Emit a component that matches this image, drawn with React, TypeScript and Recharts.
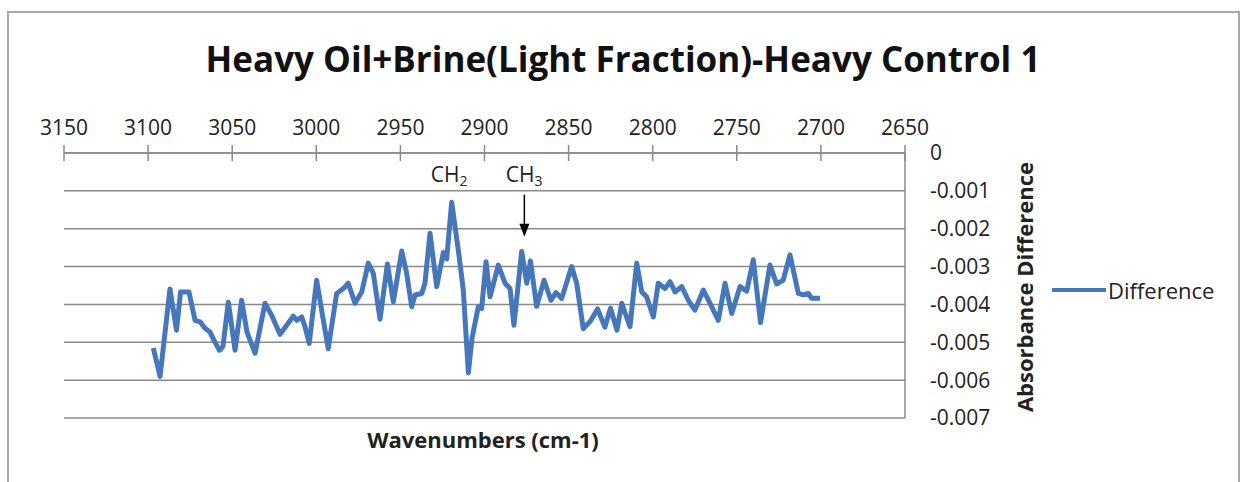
import { LineChart, Line, XAxis, YAxis, CartesianGrid, ReferenceLine, ReferenceDot } from 'recharts'

const wavenumbers = [
  3096.9, 3092.9, 3087.0, 3083.1, 3080.7, 3075.7, 3072.1, 3069.1, 3066.2, 3063.2,
  3060.8, 3057.6, 3055.5, 3052.3, 3048.3, 3044.4, 3041.2, 3036.4, 3030.5, 3026.3,
  3021.6, 3017.6, 3013.7, 3011.5, 3008.7, 3006.7, 3004.2, 2999.8, 2995.8, 2992.9,
  2987.9, 2983.9, 2981.0, 2977.0, 2973.0, 2969.1, 2966.1, 2962.1, 2957.7, 2954.2,
  2949.2, 2946.3, 2943.3, 2941.3, 2937.3, 2935.4, 2932.4, 2928.4, 2924.5, 2922.5,
  2919.5, 2915.2, 2912.6, 2909.6, 2907.4, 2903.7, 2901.7, 2899.1, 2896.7, 2891.8,
  2887.8, 2884.8, 2882.5, 2877.9, 2874.9, 2872.7, 2869.0, 2864.6, 2860.5, 2857.5,
  2854.1, 2848.2, 2845.2, 2841.3, 2837.0, 2832.8, 2828.4, 2825.1, 2821.2, 2818.4,
  2813.5, 2809.5, 2806.5, 2803.6, 2799.6, 2796.7, 2792.7, 2789.7, 2786.7, 2782.8,
  2778.8, 2774.9, 2769.9, 2765.9, 2761.0, 2757.0, 2753.0, 2748.1, 2744.1, 2740.2,
  2735.9, 2730.3, 2726.3, 2722.4, 2718.4, 2713.4, 2710.5, 2707.5, 2705.5, 2700.5,
]

const difference = [
  -0.00515, -0.0059, -0.00359, -0.00468, -0.00367, -0.00367, -0.00442, -0.00446, -0.00463, -0.00473,
  -0.00495, -0.00521, -0.00511, -0.00394, -0.00521, -0.00389, -0.00473, -0.00529, -0.00397, -0.00431,
  -0.00479, -0.00455, -0.00431, -0.00442, -0.00433, -0.00459, -0.00503, -0.00336, -0.00442, -0.00517,
  -0.00371, -0.00358, -0.00344, -0.00397, -0.00367, -0.00291, -0.00318, -0.00439, -0.00293, -0.00393,
  -0.00259, -0.00317, -0.00406, -0.00375, -0.00371, -0.00344, -0.00212, -0.00353, -0.00263, -0.0028,
  -0.0013, -0.00269, -0.00362, -0.00581, -0.00489, -0.00406, -0.00411, -0.00287, -0.0038, -0.00296,
  -0.00344, -0.00358, -0.00455, -0.0026, -0.00344, -0.00285, -0.00405, -0.00336, -0.00389, -0.00369,
  -0.00384, -0.003, -0.00344, -0.00464, -0.00444, -0.00412, -0.0046, -0.0041, -0.00468, -0.00397,
  -0.00459, -0.00291, -0.00367, -0.0038, -0.00433, -0.00344, -0.00358, -0.0034, -0.00367, -0.00353,
  -0.00389, -0.00415, -0.00362, -0.00397, -0.00442, -0.00344, -0.00424, -0.00353, -0.00365, -0.00282,
  -0.00448, -0.00296, -0.00346, -0.00336, -0.00269, -0.00371, -0.00375, -0.00371, -0.00384, -0.00384,
]

const xTicks = [3150, 3100, 3050, 3000, 2950, 2900, 2850, 2800, 2750, 2700, 2650]
const yTicks = [0, -0.001, -0.002, -0.003, -0.004, -0.005, -0.006, -0.007]

// peak annotations: [label, sub, wavenumber, value]
const peakLabels: [string, string, number, number][] = [
  ['CH', '2', 2921, -0.00057],
  ['CH', '3', 2876.5, -0.00057],
]
const arrowX = 2876.3
const arrowFrom = -0.0011
const arrowTo = -0.00221

const data = wavenumbers.map((wn, i) => ({ wn, diff: difference[i] }))

const FONT = '"Open Sans", "Noto Sans", sans-serif'
const BLUE = '#4677BA'
const GRAY = '#8a8a8a'

const TopTick = (props: any) => {
  const { x, y, payload } = props
  return (
    <g>
      <line x1={x} y1={y - 8} x2={x} y2={y + 8} stroke={GRAY} strokeWidth={1.5} />
      <text x={x} y={y - 18} textAnchor="middle" fontSize={21} fontFamily={FONT} fill="#222">
        {payload.value}
      </text>
    </g>
  )
}

const PeakLabel = (label: string, sub: string) => (props: any) => {
  const { cx, cy } = props
  return (
    <text x={cx} y={cy + 7} textAnchor="middle" fontSize={21} fontFamily={FONT} fill="#222">
      {label}
      <tspan fontSize={14} dy={4}>{sub}</tspan>
    </text>
  )
}

const Arrow = (props: any) => {
  const { x1, y1, x2, y2 } = props
  const top = Math.min(y1, y2)
  const tip = Math.max(y1, y2)
  return (
    <g>
      <line x1={x1} y1={top} x2={x2} y2={tip - 10} stroke="#000" strokeWidth={1.5} />
      <polygon points={`${x2 - 5},${tip - 13} ${x2 + 5},${tip - 13} ${x2},${tip}`} fill="#000" />
    </g>
  )
}

export default function App() {
  return (
    <div
      style={{
        position: 'absolute',
        left: 0,
        top: 0,
        width: 1241,
        height: 482,
        overflow: 'hidden',
        background: '#fff',
        fontFamily: FONT,
      }}
    >
      <div
        style={{
          position: 'absolute',
          left: 7,
          top: 11,
          width: 1233,
          height: 520,
          border: '2px solid #a8a8a8',
          boxSizing: 'border-box',
        }}
      />
      <div
        style={{
          position: 'absolute',
          left: 0,
          width: 1246,
          top: 36,
          textAlign: 'center',
          fontSize: 35,
          fontWeight: 700,
          color: '#111',
          lineHeight: '46px',
        }}
      >
        Heavy Oil+Brine(Light Fraction)-Heavy Control 1
      </div>

      <LineChart
        width={1241}
        height={482}
        data={data}
        margin={{ top: 123, right: 236, bottom: 64, left: 64 }}
        style={{ position: 'absolute', left: 0, top: 0 }}
      >
        <CartesianGrid vertical={false} stroke={GRAY} strokeWidth={1.5} />
        <XAxis
          dataKey="wn"
          type="number"
          orientation="top"
          reversed
          domain={[2650, 3150]}
          ticks={xTicks}
          interval={0}
          height={30}
          tickSize={0}
          tickMargin={0}
          tickLine={false}
          axisLine={{ stroke: GRAY, strokeWidth: 1.5 }}
          tick={TopTick}
        />
        <YAxis
          orientation="right"
          type="number"
          domain={[-0.007, 0]}
          ticks={yTicks}
          interval={0}
          width={100}
          tickSize={0}
          tickMargin={25}
          tickLine={false}
          axisLine={{ stroke: GRAY, strokeWidth: 1.5 }}
          tick={{ fontSize: 21, fontFamily: FONT, fill: '#222' }}
          tickFormatter={(v: number) => (v === 0 ? '0' : v.toFixed(3))}
        />
        <Line
          type="linear"
          dataKey="diff"
          stroke={BLUE}
          strokeWidth={5}
          strokeLinejoin="round"
          dot={false}
          activeDot={false}
          isAnimationActive={false}
        />
        {peakLabels.map(([label, sub, x, y]) => (
          <ReferenceDot key={label + sub} x={x} y={y} r={0} shape={PeakLabel(label, sub)} />
        ))}
        <ReferenceLine
          segment={[
            { x: arrowX, y: arrowFrom },
            { x: arrowX, y: arrowTo },
          ]}
          shape={Arrow}
        />
      </LineChart>

      <div
        style={{
          position: 'absolute',
          left: 283,
          width: 400,
          top: 424,
          textAlign: 'center',
          fontSize: 22,
          fontWeight: 700,
          color: '#222',
          lineHeight: '30px',
        }}
      >
        Wavenumbers (cm-1)
      </div>

      <div
        style={{
          position: 'absolute',
          left: 1024 - 150,
          top: 287 - 15,
          width: 300,
          lineHeight: '30px',
          textAlign: 'center',
          fontSize: 22,
          fontWeight: 700,
          color: '#222',
          transform: 'rotate(-90deg)',
        }}
      >
        Absorbance Difference
      </div>

      <div style={{ position: 'absolute', left: 1052, top: 288, width: 54, height: 4, background: BLUE }} />
      <div
        style={{
          position: 'absolute',
          left: 1108,
          top: 275,
          fontSize: 22,
          color: '#222',
          lineHeight: '30px',
        }}
      >
        Difference
      </div>
    </div>
  )
}
